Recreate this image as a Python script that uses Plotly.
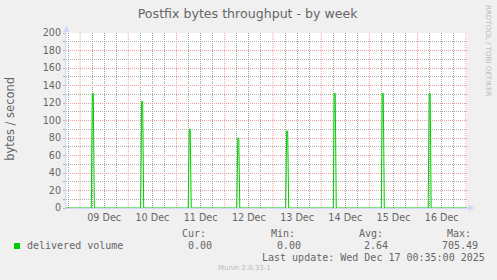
import plotly.graph_objects as go
import pandas as pd

# ---- data ----
range_start = "2025-12-08 17:00"
range_end = "2025-12-17 00:35"
sample_step_min = 30  # munin weekly resolution
spike_times = ["2025-12-09 06:20", "2025-12-10 06:55", "2025-12-11 06:35",
               "2025-12-12 06:45", "2025-12-13 07:05", "2025-12-14 06:45",
               "2025-12-15 06:40", "2025-12-16 06:00"]
spike_peaks = [131, 122, 90, 80, 88, 131, 131, 131]
day_labels = ["09 Dec", "10 Dec", "11 Dec", "12 Dec", "13 Dec", "14 Dec", "15 Dec", "16 Dec"]
day_label_dates = ["2025-12-09", "2025-12-10", "2025-12-11", "2025-12-12",
                   "2025-12-13", "2025-12-14", "2025-12-15", "2025-12-16"]
series_name = "delivered volume"
stat_labels = ["Cur:", "Min:", "Avg:", "Max:"]
stat_values = ["0.00", "0.00", "2.64", "705.49"]
last_update = "Last update: Wed Dec 17 00:35:00 2025"
title = "Postfix bytes throughput - by week"
y_title = "bytes / second"

# ---- build series: each spike spans two 30-min samples ----
step = pd.Timedelta(minutes=sample_step_min)
xs = [pd.Timestamp(range_start)]
ys = [0]
for t, p in zip(spike_times, spike_peaks):
    c = pd.Timestamp(t)
    xs += [c - 1.5 * step, c - 0.5 * step, c + 0.5 * step, c + 1.5 * step]
    ys += [0, p, p, 0]
xs.append(pd.Timestamp(range_end))
ys.append(0)

# grid positions: red at midnights, grey every 6 hours in between,
# day labels at noon
midnights = list(pd.date_range("2025-12-09", range_end, freq="D"))
six_hourly = [t for t in pd.date_range("2025-12-08 18:00", range_end, freq="6h")
              if t.hour != 0]
noon_label = {pd.Timestamp(d) + pd.Timedelta(hours=12): lab
              for d, lab in zip(day_label_dates, day_labels)}
six_hourly_text = [noon_label.get(t, "") for t in six_hourly]

# ---- layout geometry ----
WID, HEI = 497, 280
L, R, T, B = 66, 30, 33, 72
PW, PH = WID - L - R, HEI - T - B


def pxx(x):
    return (x - L) / PW


def pyy(y):
    return (HEI - B - y) / PH


TXT = "#666666"
RED = "rgb(238,160,160)"
GRAY = "rgb(175,175,175)"
XGRAY = "rgb(160,160,160)"
AXC = "#CFD6F8"
GREEN = "#00CC00"
DOTS = "1px,1px"

fig = go.Figure()
fig.add_trace(go.Scatter(x=xs, y=ys, mode="lines",
                         line=dict(color=GREEN, width=1),
                         hoverinfo="skip", showlegend=False))

fig.update_layout(
    width=WID, height=HEI,
    margin=dict(l=L, r=R, t=T, b=B, pad=0),
    paper_bgcolor="#F0F0F0", plot_bgcolor="#FFFFFF",
    font=dict(family="DejaVu Sans", color=TXT, size=10),
    showlegend=False,
    title=dict(text=title, xref="container", yref="container",
               x=247.7 / WID, y=1 - 13.3 / HEI, xanchor="center", yanchor="middle",
               font=dict(size=12.6, color=TXT, family="DejaVu Sans")),
    xaxis=dict(
        type="date", range=[range_start, range_end],
        tickmode="array", tickvals=six_hourly, ticktext=six_hourly_text, ticks="",
        showgrid=True, gridcolor=XGRAY, griddash=DOTS, gridwidth=1,
        showline=True, linecolor=AXC, linewidth=1, layer="below traces",
        zeroline=False, tickfont=dict(size=9.6, color=TXT), fixedrange=True,
    ),
    yaxis=dict(
        range=[0, 200], tick0=0, dtick=20,
        showgrid=True, gridcolor=RED, griddash=DOTS, gridwidth=1,
        ticks="outside", ticklen=2, tickcolor=RED,
        minor=dict(dtick=10, tick0=0, showgrid=True, gridcolor=GRAY, gridwidth=1,
                   griddash=DOTS, ticks="outside", ticklen=2, tickcolor=GRAY),
        showline=True, linecolor=AXC, linewidth=1, layer="below traces",
        zeroline=False, tickfont=dict(size=9.6, color=TXT),
        fixedrange=True,
    ),
)

# day-boundary (major) grid lines and axis decorations
shapes = []
for m in midnights:
    shapes.append(dict(type="line", xref="x", yref="paper", x0=m, x1=m, y0=0, y1=1,
                       layer="below", line=dict(color=RED, width=1, dash=DOTS)))
shapes += [
    dict(type="line", xref="paper", yref="paper", x0=0, x1=0, y0=1, y1=pyy(28),
         line=dict(color=AXC, width=1)),
    dict(type="path", xref="paper", yref="paper",
         path=f"M {pxx(63.5)} {pyy(32)} L {pxx(69.5)} {pyy(32)} L {pxx(66.5)} {pyy(25.5)} Z",
         fillcolor=AXC, line=dict(color=AXC, width=0)),
    dict(type="line", xref="paper", yref="paper", x0=1, x1=pxx(470), y0=0, y1=0,
         line=dict(color=AXC, width=1)),
    dict(type="path", xref="paper", yref="paper",
         path=f"M {pxx(468.5)} {pyy(205)} L {pxx(468.5)} {pyy(211)} L {pxx(474.5)} {pyy(208)} Z",
         fillcolor=AXC, line=dict(color=AXC, width=0)),
    # legend colour box
    dict(type="rect", xref="paper", yref="paper",
         x0=pxx(14), x1=pxx(20), y0=pyy(249), y1=pyy(243),
         fillcolor=GREEN, line=dict(width=0)),
]
fig.update_layout(shapes=shapes)

MONO = "DejaVu Sans Mono"
ann = []


def add_text(text, x_left, y_mid, size=10, family=MONO, color=TXT):
    ann.append(dict(text=text, xref="paper", yref="paper",
                    x=pxx(x_left - 1), y=pyy(y_mid), xanchor="left", yanchor="middle",
                    showarrow=False, borderpad=0,
                    font=dict(size=size, family=family, color=color)))


add_text(series_name, 26.7, 245.7)
label_x = [181.7, 271.0, 359.0, 447.3]
value_x = [187.7, 276.7, 364.3, 441.7]
for lab, lx in zip(stat_labels, label_x):
    add_text(lab, lx, 233.3)
for val, vx in zip(stat_values, value_x):
    add_text(val, vx, 245.7)
add_text(last_update, 261.7, 257.3)
add_text("Munin 2.0.33-1", 218.3, 268.3, size=7, family="DejaVu Sans", color="#BBBBBB")

# y-axis title
ann.append(dict(text=y_title, xref="paper", yref="paper", x=pxx(10.5), y=pyy(118.3),
                xanchor="center", yanchor="middle", textangle=-90, showarrow=False,
                font=dict(size=11.5, family="DejaVu Sans", color=TXT)))
# rrdtool watermark
ann.append(dict(text="RRDTOOL / TOBI OETIKER", xref="paper", yref="paper",
                x=pxx(489), y=pyy(51), xanchor="center", yanchor="middle",
                textangle=90, showarrow=False,
                font=dict(size=7.1, family="DejaVu Sans", color="#BBBBBB")))
fig.update_layout(annotations=ann)

fig.write_html("out.html")
